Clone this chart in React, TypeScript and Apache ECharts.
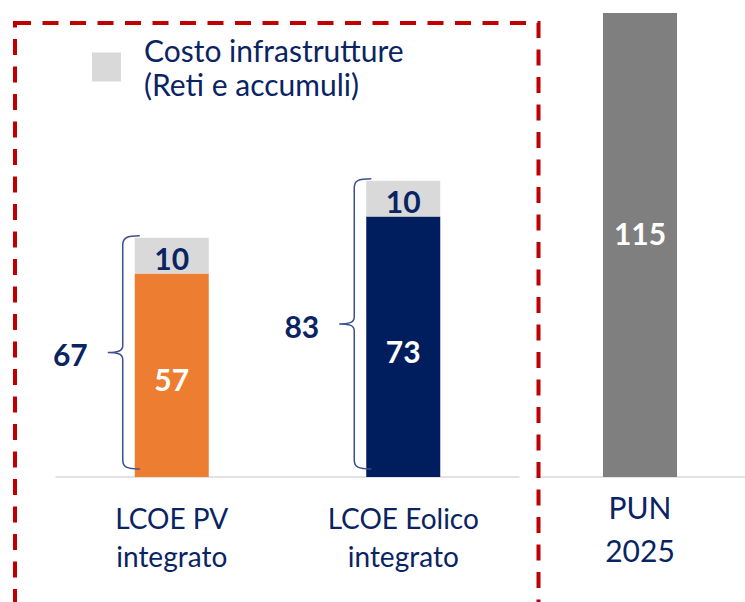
import React, { useEffect, useRef } from "react";
import * as echarts from "echarts";

const categories = ["LCOE PV\nintegrato", "LCOE Eolico\nintegrato"];
const lcoeValues = [57, 73];
const lcoeColors = ["#ED7D31", "#001E5E"];
const infraValues = [10, 10];
const infraName = "Costo infrastrutture\n(Reti e accumuli)";
const punCategories = ["PUN\n2025"];
const punValues = [115];

const NAVY = "#0A2463";
const FONT = "Lato, 'Noto Sans', sans-serif";

export default function App() {
  const ref = useRef<HTMLDivElement>(null);
  useEffect(() => {
    if (!ref.current) return;
    const chart = echarts.init(ref.current, undefined, { renderer: "svg" });
    const totals = lcoeValues.map((v, i) => v + infraValues[i]);
    const option: any = {
      animation: false,
      textStyle: { fontFamily: FONT },
      legend: {
        data: [infraName],
        left: 92,
        top: 33,
        padding: 0,
        itemWidth: 29,
        itemHeight: 29,
        icon: "rect",
        selectedMode: false,
        textStyle: {
          fontFamily: FONT,
          fontSize: 30,
          lineHeight: 34,
          color: NAVY,
          padding: [0, 0, 0, 18],
        },
      },
      graphic: [
        {
          type: "rect",
          shape: { x: 15, y: 23, width: 523.5, height: 620 },
          style: { fill: "none", stroke: "#C00000", lineWidth: 4, lineDash: [16, 11.5] },
          z: 100,
          silent: true,
        },
      ],
      grid: [
        { left: 56, width: 463, top: 13, height: 464 },
        { left: 535, width: 210, top: 13, height: 464 },
      ],
      xAxis: [
        {
          type: "category",
          gridIndex: 0,
          data: categories,
          axisTick: { show: false },
          axisLine: { lineStyle: { color: "#D9D9D9", width: 1.5 } },
          axisLabel: { fontFamily: FONT, fontSize: 28, lineHeight: 38, color: NAVY, margin: 22 },
        },
        {
          type: "category",
          gridIndex: 1,
          data: punCategories,
          axisTick: { show: false },
          axisLine: { lineStyle: { color: "#D9D9D9", width: 1.5 } },
          axisLabel: { fontFamily: FONT, fontSize: 30, lineHeight: 43, color: NAVY, margin: 8 },
        },
      ],
      yAxis: [
        { type: "value", gridIndex: 0, min: 0, max: 130, show: false },
        { type: "value", gridIndex: 1, min: 0, max: 115, show: false },
      ],
      series: [
        {
          name: "LCOE",
          type: "bar",
          stack: "a",
          xAxisIndex: 0,
          yAxisIndex: 0,
          barWidth: 74,
          data: lcoeValues.map((v, i) => ({ value: v, itemStyle: { color: lcoeColors[i] } })),
          label: {
            show: true,
            position: "inside",
            color: "#FFFFFF",
            fontFamily: FONT,
            fontWeight: "bold",
            fontSize: 30,
            offset: [0, 4],
          },
        },
        {
          name: infraName,
          type: "bar",
          stack: "a",
          xAxisIndex: 0,
          yAxisIndex: 0,
          barWidth: 74,
          itemStyle: { color: "#D9D9D9" },
          data: infraValues,
          label: {
            show: true,
            position: "inside",
            color: NAVY,
            fontFamily: FONT,
            fontWeight: "bold",
            fontSize: 30,
            offset: [0, 2],
          },
        },
        {
          name: "PUN",
          type: "bar",
          xAxisIndex: 1,
          yAxisIndex: 1,
          barWidth: 74,
          itemStyle: { color: "#7F7F7F" },
          data: punValues,
          label: {
            show: true,
            position: "inside",
            color: "#FFFFFF",
            fontFamily: FONT,
            fontWeight: "bold",
            fontSize: 30,
            offset: [0, -12],
          },
        },
        {
          name: "brace",
          type: "custom",
          xAxisIndex: 0,
          yAxisIndex: 0,
          z: 10,
          clip: false,
          data: totals.map((t, i) => [i, t]),
          renderItem: (params: any, api: any) => {
            const i = api.value(0);
            const total = api.value(1);
            const top = api.coord([i, total]);
            const base = api.coord([i, 0]);
            const bx = top[0] - 49;
            const y0 = top[1] - 2;
            const y1 = base[1] - 8;
            const ym = (y0 + y1) / 2;
            const d =
              `M${bx + 17},${y0} C${bx + 4},${y0} ${bx},${y0 + 2} ${bx},${y0 + 9} ` +
              `L${bx},${ym - 7} C${bx},${ym - 1} ${bx - 6},${ym} ${bx - 15},${ym} ` +
              `M${bx - 15},${ym} C${bx - 6},${ym} ${bx},${ym + 1} ${bx},${ym + 7} ` +
              `L${bx},${y1 - 9} C${bx},${y1 - 2} ${bx + 4},${y1} ${bx + 17},${y1}`;
            return {
              type: "group",
              children: [
                {
                  type: "path",
                  shape: { pathData: d },
                  style: { stroke: "#3A5090", fill: "none", lineWidth: 1.5 },
                },
                {
                  type: "text",
                  style: {
                    text: String(total),
                    x: bx - 35,
                    y: ym + 2,
                    align: "right",
                    verticalAlign: "middle",
                    font: `bold 30px ${FONT}`,
                    fill: NAVY,
                  },
                },
              ],
            };
          },
        },
      ],
    };
    chart.setOption(option);
    return () => chart.dispose();
  }, []);
  return (
    <div
      ref={ref}
      style={{ position: "absolute", left: 0, top: 0, width: 745, height: 602, background: "#fff" }}
    />
  );
}
